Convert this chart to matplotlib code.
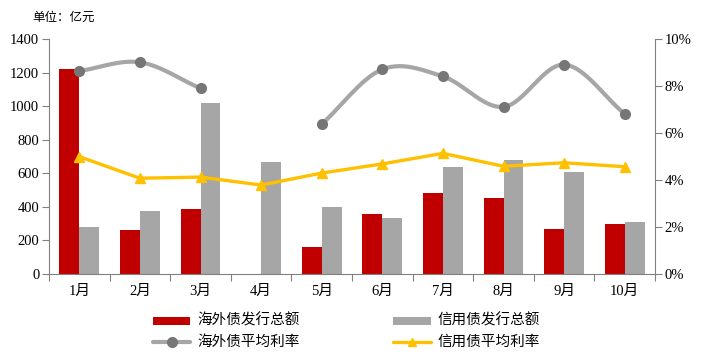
import matplotlib
matplotlib.use('Agg')
import matplotlib.pyplot as plt
import matplotlib.patches as mpatches
from matplotlib.lines import Line2D
from matplotlib.ticker import FuncFormatter
import numpy as np

# ============================================================
# DATA
# ============================================================
months = ['1月', '2月', '3月', '4月', '5月', '6月', '7月', '8月', '9月', '10月']
overseas_amount = [1220, 262, 388, 0, 161, 360, 483, 453, 268, 298]
credit_amount = [280, 376, 1020, 668, 400, 334, 640, 680, 608, 312]
# 海外债平均利率 (%), 4月无数据
overseas_rate = [8.65, 9.02, 7.91, np.nan, 6.38, 8.72, 8.42, 7.12, 8.92, 6.82]
credit_rate = [5.00, 4.08, 4.13, 3.79, 4.30, 4.69, 5.14, 4.59, 4.74, 4.57]

# ============================================================
# STYLE
# ============================================================
C_RED = '#C00000'
C_GRAY_BAR = '#A6A6A6'
C_GRAY_LINE = '#A6A6A6'
C_GRAY_DOT = '#767676'
C_YELLOW = '#FFC000'
C_AXIS = '#808080'

SERIF = ['Liberation Serif', 'Noto Sans CJK SC']
CJK = ['Noto Sans CJK SC', 'DejaVu Sans']


def smooth_segment(xs, ys, n=30):
    """Catmull-Rom style curve through the points of one segment."""
    xs = np.asarray(xs, float)
    ys = np.asarray(ys, float)
    if len(xs) < 3:
        return xs, ys
    px = np.concatenate([[2 * xs[0] - xs[1]], xs, [2 * xs[-1] - xs[-2]]])
    py = np.concatenate([[2 * ys[0] - ys[1]], ys, [2 * ys[-1] - ys[-2]]])
    out_x, out_y = [], []
    t = np.linspace(0, 1, n)
    for i in range(1, len(px) - 2):
        p0, p1, p2, p3 = (np.array([px[j], py[j]]) for j in range(i - 1, i + 3))
        c1 = p1 + (p2 - p0) / 6
        c2 = p2 - (p3 - p1) / 6
        pts = ((1 - t)[:, None] ** 3 * p1 + 3 * ((1 - t) ** 2 * t)[:, None] * c1
               + 3 * ((1 - t) * t ** 2)[:, None] * c2 + (t ** 3)[:, None] * p2)
        out_x.extend(pts[:, 0])
        out_y.extend(pts[:, 1])
    return np.array(out_x), np.array(out_y)


# ============================================================
# FIGURE
# ============================================================
fig = plt.figure(figsize=(7.03, 3.58), dpi=100, facecolor='white')
ax = fig.add_axes([49 / 703, (358 - 274) / 358, (655 - 49) / 703, (274 - 39.3) / 358])

x = np.arange(len(months))
w = 0.33
ax.bar(x - w / 2, overseas_amount, width=w, color=C_RED, zorder=2)
ax.bar(x + w / 2, credit_amount, width=w, color=C_GRAY_BAR, zorder=2)

ax.set_xlim(-0.5, len(months) - 0.5)
ax.set_ylim(0, 1400)
ax.set_yticks(range(0, 1401, 200))
ax.set_yticklabels([str(v) for v in range(0, 1401, 200)], family=SERIF, fontsize=10.5)

# category boundaries as major ticks, labels on minor ticks
ax.set_xticks(np.arange(-0.5, len(months), 1.0))
ax.set_xticklabels([])
ax.set_xticks(x, minor=True)
ax.set_xticklabels(months, minor=True, family=SERIF, fontsize=10.5)
ax.tick_params(axis='x', which='minor', length=0, pad=8)
ax.tick_params(axis='x', which='major', length=5, color=C_AXIS, direction='out')
ax.tick_params(axis='y', length=5, color=C_AXIS, direction='out', pad=2)

for side in ['top', 'right']:
    ax.spines[side].set_visible(False)
for side in ['left', 'bottom']:
    ax.spines[side].set_color(C_AXIS)

# ============================================================
# RIGHT AXIS — rates
# ============================================================
ax2 = ax.twinx()
ax2.set_ylim(0, 10)
ax2.set_yticks(range(0, 11, 2))
ax2.yaxis.set_major_formatter(FuncFormatter(lambda v, p: f'{v:.0f}%'))
for lbl in ax2.get_yticklabels():
    lbl.set_family(SERIF)
    lbl.set_fontsize(10.5)
ax2.tick_params(axis='y', length=5, color=C_AXIS, direction='out', pad=2)
for side in ['top', 'left', 'bottom']:
    ax2.spines[side].set_visible(False)
ax2.spines['right'].set_color(C_AXIS)

# overseas rate: smooth line with gap at missing month
rate = np.array(overseas_rate)
valid = ~np.isnan(rate)
start = None
for i in range(len(rate) + 1):
    ok = i < len(rate) and valid[i]
    if ok and start is None:
        start = i
    if not ok and start is not None:
        sx, sy = smooth_segment(x[start:i], rate[start:i])
        ax2.plot(sx, sy, color=C_GRAY_LINE, lw=3, solid_capstyle='round', zorder=3)
        start = None
ax2.plot(x[valid], rate[valid], 'o', color=C_GRAY_DOT, ms=7, zorder=4)

ax2.plot(x, credit_rate, color=C_YELLOW, lw=2.4, marker='^', ms=7.5, zorder=5)

# ============================================================
# TEXT
# ============================================================
fig.text(32 / 703, 1 - 17 / 358, '单位：亿元', family=CJK, fontsize=9,
         ha='left', va='center')

# ============================================================
# LEGEND (manual, figure coords)
# ============================================================
def fx(px):
    return px / 703


def fy(py):
    return 1 - py / 358


rows = [320.5, 341.5]
cols = [(153, 190, 197), (393, 431, 437)]

fig.patches.append(mpatches.Rectangle((fx(153), fy(324.5)), fx(190) - fx(153), fy(316.5) - fy(324.5),
                                      facecolor=C_RED, edgecolor='none', transform=fig.transFigure))
fig.patches.append(mpatches.Rectangle((fx(393), fy(324.5)), fx(431) - fx(393), fy(316.5) - fy(324.5),
                                      facecolor=C_GRAY_BAR, edgecolor='none', transform=fig.transFigure))
fig.lines.append(Line2D([fx(153), fx(190)], [fy(rows[1])] * 2, color=C_GRAY_LINE, lw=3,
                        solid_capstyle='round', transform=fig.transFigure))
fig.lines.append(Line2D([fx(171.5)], [fy(rows[1])], marker='o', color=C_GRAY_DOT, ms=7,
                        transform=fig.transFigure))
fig.lines.append(Line2D([fx(393), fx(431)], [fy(rows[1])] * 2, color=C_YELLOW, lw=2.4,
                        solid_capstyle='round', transform=fig.transFigure))
fig.lines.append(Line2D([fx(412)], [fy(rows[1])], marker='^', color=C_YELLOW, ms=6,
                        transform=fig.transFigure))

labels = [('海外债发行总额', cols[0][2], rows[0]), ('信用债发行总额', cols[1][2], rows[0]),
          ('海外债平均利率', cols[0][2], rows[1]), ('信用债平均利率', cols[1][2], rows[1])]
for txt, lx, ly in labels:
    fig.text(fx(lx), fy(ly), txt, family=CJK, fontsize=10.5, ha='left', va='center')

plt.savefig('out.png', dpi=100, facecolor='white')
plt.close()
